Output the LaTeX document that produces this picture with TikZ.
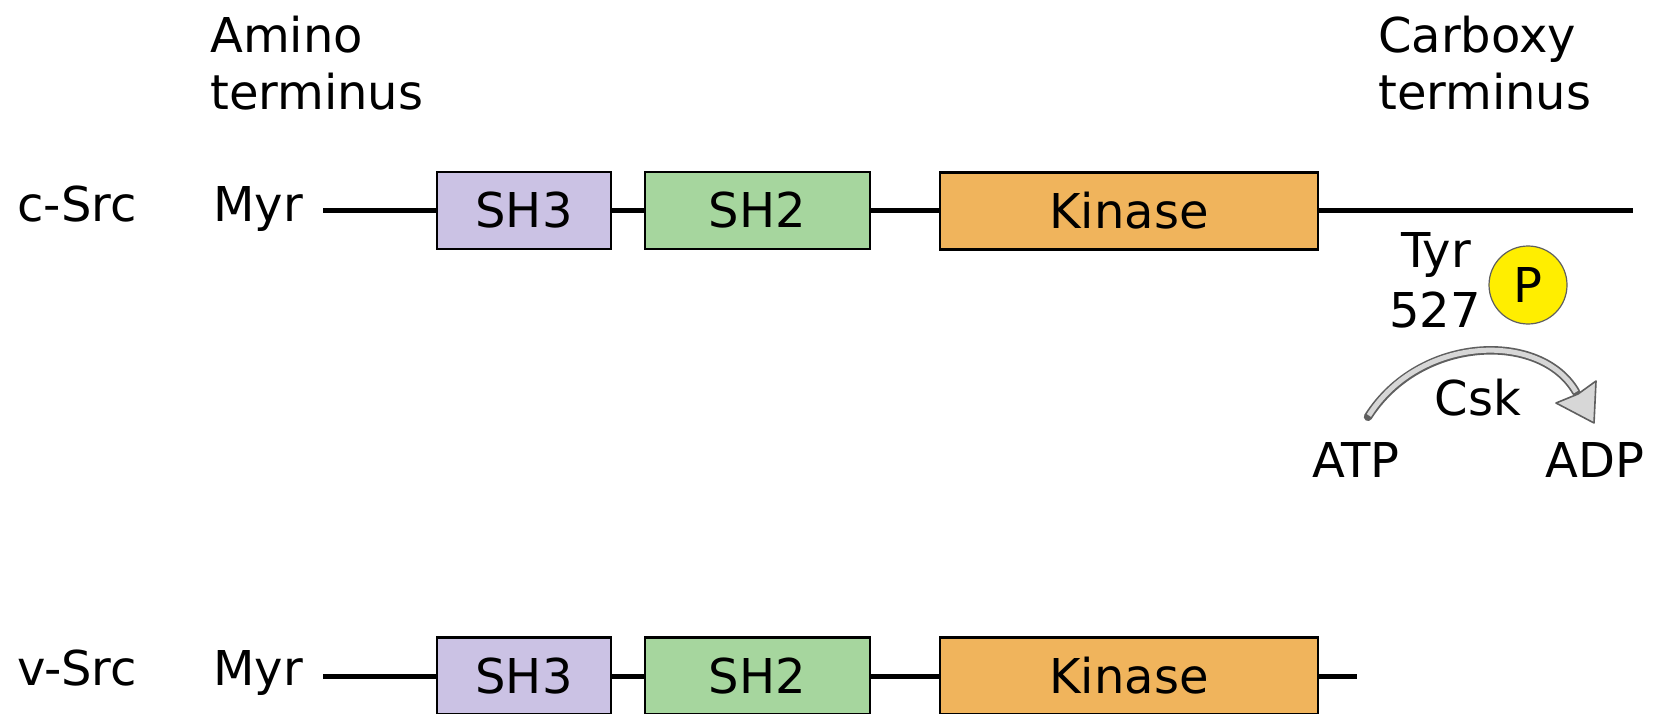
\documentclass[tikz,border=0pt]{standalone}
\usepackage{fontspec}
\setmainfont{DejaVu Sans}
\usetikzlibrary{calc}
\definecolor{shthree}{RGB}{203,194,228}
\definecolor{shtwo}{RGB}{166,214,158}
\definecolor{kin}{RGB}{240,180,92}
\definecolor{phos}{RGB}{255,238,0}
\definecolor{arrfill}{RGB}{215,215,215}
\definecolor{arrline}{RGB}{95,95,95}
\tikzset{
  lbl/.style={inner sep=0pt, font=\fontsize{48}{57}\selectfont},
  protbox/.style={draw=black, line width=2.5pt, inner sep=0pt,
    minimum height=77pt, font=\fontsize{48}{57}\selectfont},
  backbone/.style={line width=5pt, black},
}
\begin{document}
\begin{tikzpicture}[x=1pt, y=-1pt]
\useasboundingbox (0,0) rectangle (1661,714);

% terminus labels
\node[lbl, anchor=base west] (amino1) at (210,53) {Amino};
\node[lbl, anchor=base west] (amino2) at (210,110) {terminus};
\node[lbl, anchor=base west] (carb1) at (1378,53) {Carboxy};
\node[lbl, anchor=base west] (carb2) at (1378,110) {terminus};

% c-Src
\node[lbl, anchor=base] (csrc) at (77,222) {c-Src};
\node[lbl, anchor=base] (myrA) at (258,222) {Myr};
\coordinate (startA) at (323,210);
\coordinate (endA) at (1633,210);
\draw[backbone] (startA) -- (endA);
\node[protbox, fill=shthree, minimum width=174pt] (sh3A) at (524,210.5) {SH3};
\node[protbox, fill=shtwo, minimum width=225pt] (sh2A) at (757.5,210.5) {SH2};
\node[protbox, fill=kin, minimum width=378pt] (kinA) at (1129,211) {Kinase};

% Tyr 527 phosphorylation by Csk
\node[lbl, anchor=base] (tyr) at (1436,267) {Tyr};
\node[lbl, anchor=base] (num) at (1435,327) {527};
\node[draw=arrline, line width=1.2pt, fill=phos, circle, minimum size=78pt,
  inner sep=0pt, font=\fontsize{48}{57}\selectfont] (phosP) at (1528,285) {P};
\node[lbl, anchor=base] (csk) at (1478,415) {Csk};
\node[lbl, anchor=base] (atp) at (1356,477) {ATP};
\node[lbl, anchor=base] (adp) at (1595,477) {ADP};
\coordinate (arrS) at ($(atp.north)+(12,-25)$);
\coordinate (arrE) at (1576,392);
\coordinate (arrT) at (1594,423);
\draw[line width=8.5pt, arrline, line cap=round]
  (arrS) .. controls (1420,335) and (1541,331) .. (arrE);
\draw[line width=5pt, arrfill, shorten <=1.6pt]
  (arrS) .. controls (1420,335) and (1541,331) .. (arrE);
\draw[fill=arrfill, draw=arrline, line width=1.6pt, line join=round]
  (1556,403) -- (arrT) -- (1596,381) -- (1578,394) -- cycle;

% v-Src
\node[lbl, anchor=base] (vsrc) at (77,685) {v-Src};
\node[lbl, anchor=base] (myrB) at (258,685) {Myr};
\coordinate (startB) at (323,676);
\coordinate (endB) at (1357,676);
\draw[backbone] (startB) -- (endB);
\node[protbox, fill=shthree, minimum width=174pt] (sh3B) at (524,676) {SH3};
\node[protbox, fill=shtwo, minimum width=225pt] (sh2B) at (757.5,676) {SH2};
\node[protbox, fill=kin, minimum width=378pt] (kinB) at (1129,676) {Kinase};
\end{tikzpicture}
\end{document}
